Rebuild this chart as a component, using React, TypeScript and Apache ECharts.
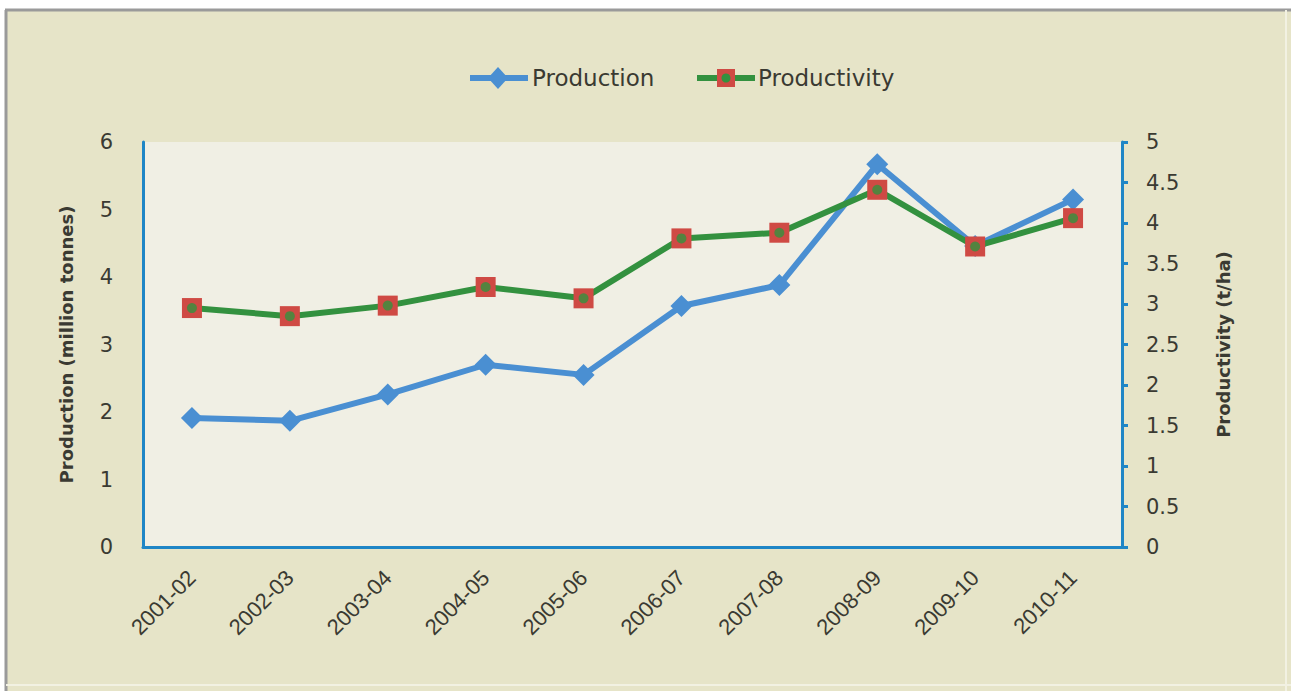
import React, { useEffect, useRef } from "react";
import * as echarts from "echarts";

const categories = ["2001-02", "2002-03", "2003-04", "2004-05", "2005-06", "2006-07", "2007-08", "2008-09", "2009-10", "2010-11"];
const production = [1.91, 1.87, 2.26, 2.7, 2.55, 3.57, 3.88, 5.67, 4.46, 5.15];
const productivity = [2.95, 2.85, 2.98, 3.21, 3.07, 3.81, 3.88, 4.41, 3.71, 4.06];
const leftAxisName = "Production (million tonnes)";
const rightAxisName = "Productivity (t/ha)";
const seriesNames = ["Production", "Productivity"];

const BLUE = "#4A8FD2";
const GREEN = "#33913F";
const RED = "#CF4A44";
const AXIS = "#1F86C6";
const TEXT = "#3A3A32";

export default function App() {
  const ref = useRef<HTMLDivElement>(null);
  useEffect(() => {
    if (!ref.current) return;
    const chart = echarts.init(ref.current, null, { renderer: "svg" });
    chart.setOption({
      animation: false,
      backgroundColor: "#E6E4C8",
      grid: {
        left: 143,
        right: 169,
        top: 142,
        bottom: 144,
        show: true,
        backgroundColor: "#F0EFE4",
        borderWidth: 0,
      },
      xAxis: {
        type: "category",
        data: categories,
        boundaryGap: true,
        axisLine: { show: true, lineStyle: { color: AXIS, width: 3 } },
        axisTick: { show: false },
        axisLabel: {
          rotate: 45,
          margin: 27,
          color: TEXT,
          fontSize: 22,
          fontFamily: "Liberation Sans",
        },
      },
      yAxis: [
        {
          type: "value",
          min: 0,
          max: 6,
          interval: 1,
          position: "left",
          name: leftAxisName,
          nameLocation: "middle",
          nameGap: 68,
          nameRotate: 90,
          nameTextStyle: { color: TEXT, fontSize: 18, fontWeight: "bold", fontFamily: "DejaVu Sans" },
          axisLine: { show: true, lineStyle: { color: AXIS, width: 3 } },
          axisTick: { show: false },
          splitLine: { show: false },
          axisLabel: { color: TEXT, fontSize: 21, fontFamily: "DejaVu Sans", margin: 30 },
        },
        {
          type: "value",
          min: 0,
          max: 5,
          interval: 0.5,
          position: "right",
          name: rightAxisName,
          nameLocation: "middle",
          nameGap: 92,
          nameRotate: 90,
          nameTextStyle: { color: TEXT, fontSize: 18, fontWeight: "bold", fontFamily: "DejaVu Sans" },
          axisLine: { show: true, lineStyle: { color: AXIS, width: 3 } },
          axisTick: { show: true, inside: false, length: 6, lineStyle: { color: AXIS, width: 3 } },
          splitLine: { show: false },
          axisLabel: { color: TEXT, fontSize: 21, fontFamily: "DejaVu Sans", margin: 24 },
        },
      ],
      series: [
        {
          name: seriesNames[0],
          type: "line",
          yAxisIndex: 0,
          data: production,
          symbol: "diamond",
          symbolSize: 22,
          lineStyle: { color: BLUE, width: 6 },
          itemStyle: { color: BLUE },
          z: 2,
        },
        {
          name: seriesNames[1],
          type: "line",
          yAxisIndex: 1,
          data: productivity,
          symbol: "rect",
          symbolSize: 20,
          lineStyle: { color: GREEN, width: 6 },
          itemStyle: { color: RED },
          z: 3,
        },
        {
          name: seriesNames[1] + " dot",
          type: "scatter",
          yAxisIndex: 1,
          data: productivity,
          symbol: "circle",
          symbolSize: 10,
          itemStyle: { color: GREEN },
          silent: true,
          z: 4,
        },
      ],
      graphic: [
        { type: "rect", shape: { x: 0, y: 0, width: 1291, height: 9 }, style: { fill: "#FFFFFF" }, silent: true },
        { type: "rect", shape: { x: 0, y: 0, width: 5, height: 691 }, style: { fill: "#FFFFFF" }, silent: true },
        { type: "line", shape: { x1: 5, y1: 10, x2: 1291, y2: 10 }, style: { stroke: "#9A9A9A", lineWidth: 3 }, silent: true },
        { type: "line", shape: { x1: 6, y1: 10, x2: 6, y2: 691 }, style: { stroke: "#9A9A9A", lineWidth: 3 }, silent: true },
        { type: "line", shape: { x1: 1286, y1: 10, x2: 1286, y2: 691 }, style: { stroke: "#F2F1E2", lineWidth: 2 }, silent: true },
        { type: "line", shape: { x1: 6, y1: 685, x2: 1291, y2: 685 }, style: { stroke: "#F2F1E2", lineWidth: 2 }, silent: true },
        // legend: Production
        { type: "line", shape: { x1: 470, y1: 78, x2: 528, y2: 78 }, style: { stroke: BLUE, lineWidth: 6 }, silent: true },
        { type: "polygon", shape: { points: [[498, 67], [508, 78], [498, 89], [488, 78]] }, style: { fill: BLUE }, silent: true },
        { type: "text", x: 532, y: 78, style: { text: seriesNames[0], fill: TEXT, fontSize: 23, fontFamily: "DejaVu Sans", verticalAlign: "middle", align: "left" }, silent: true },
        // legend: Productivity
        { type: "line", shape: { x1: 697, y1: 78, x2: 755, y2: 78 }, style: { stroke: GREEN, lineWidth: 6 }, silent: true },
        { type: "rect", shape: { x: 717, y: 69, width: 18, height: 18 }, style: { fill: RED }, silent: true },
        { type: "circle", shape: { cx: 726, cy: 78, r: 4.5 }, style: { fill: GREEN }, silent: true },
        { type: "text", x: 758, y: 78, style: { text: seriesNames[1], fill: TEXT, fontSize: 23, fontFamily: "DejaVu Sans", verticalAlign: "middle", align: "left" }, silent: true },
      ],
    });
    return () => chart.dispose();
  }, []);
  return <div ref={ref} style={{ position: "absolute", left: 0, top: 0, width: 1291, height: 691 }} />;
}
